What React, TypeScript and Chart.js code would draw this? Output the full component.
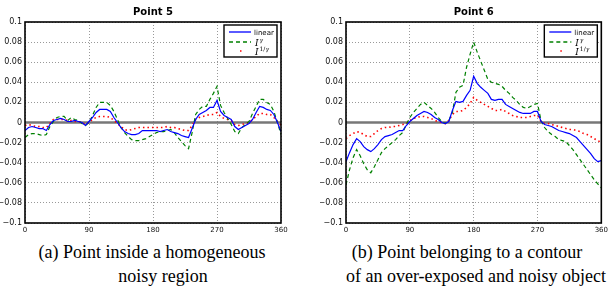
import React, { useEffect, useRef } from "react";
import { Chart, registerables } from "chart.js";
Chart.register(...registerables);

const angles = [
  0, 5, 10, 15, 20, 25, 30, 35, 40, 45, 50, 55, 60, 65, 70, 75, 80, 85, 90, 95,
  100, 105, 110, 115, 120, 125, 130, 135, 140, 145, 150, 155, 160, 165, 170, 175,
  180, 185, 190, 195, 200, 205, 210, 215, 220, 225, 230, 235, 240, 245, 250, 255,
  260, 265, 270, 275, 280, 285, 290, 295, 300, 305, 310, 315, 320, 325, 330, 335,
  340, 345, 350, 355, 360,
];
const xTicks = [0, 90, 180, 270, 360];
const yTicks = [-0.1, -0.08, -0.06, -0.04, -0.02, 0, 0.02, 0.04, 0.06, 0.08, 0.1];

// Point 5 (values in thousandths)
const p5Linear = [
  -8, -5, -4, -5, -6, -6, -8, -2, 2, 3, 4, 3, 1, 1, 2, 1, 0, -3, 1, 5,
  10, 13, 13, 13, 11, 5, 0, -5, -9, -11, -12, -12, -11, -8, -8, -8,
  -8, -8, -9, -8, -7, -9, -10, -11, -13, -14, -15, -6, 3, 8, 10, 12,
  15, 15, 22, 11, 7, 5, 3, -4, -7, -5, -3, -1, 3, 10, 16, 15,
  13, 12, 8, 0, -9,
];
const p5Gamma = [
  -15, -12, -11, -11, -12, -13, -12, -4, 1, 5, 6, 6, 2, 5, 3, 2, -1, -3, 0, 7,
  15, 20, 20, 20, 17, 11, 3, -5, -10, -14, -17, -18, -18, -17, -16, -14,
  -12, -10, -9, -9, -8, -7, -10, -15, -19, -23, -26, -10, 8, 13, 16, 16,
  23, 29, 36, 17, 10, 4, -2, -9, -11, -5, -2, 1, 9, 16, 23, 23,
  20, 18, 11, 0, -12,
];
const p5InvGamma = [
  -3, -2, -3, -4, -4, -5, -5, -1, 3, 3, 3, 3, 2, 2, 1, 1, 0, -2, 0, 3,
  5, 6, 6, 6, 5, 2, -1, -4, -7, -8, -7, -6, -5, -5, -5, -5,
  -5, -5, -5, -5, -4, -5, -5, -6, -7, -8, -8, -3, 3, 5, 6, 7,
  8, 8, 10, 6, 4, 3, 2, -2, -3, -2, -1, 0, 3, 6, 9, 9,
  8, 8, 5, 1, -3,
];

// Point 6 (values in thousandths)
const p6Linear = [
  -39, -30, -22, -16, -19, -24, -27, -29, -26, -22, -17, -14, -13, -12, -10, -8, -8, -3, 1, 4,
  7, 9, 11, 10, 8, 5, 3, 0, -1, 1, 12, 21, 20, 21, 27, 32,
  46, 39, 35, 32, 29, 23, 22, 23, 23, 18, 16, 14, 12, 10, 9, 9,
  9, 11, 11, 1, -2, -3, -4, -6, -8, -9, -10, -11, -13, -15, -19, -23,
  -27, -31, -36, -39, -38,
];
const p6Gamma = [
  -62, -47, -35, -27, -33, -41, -47, -50, -44, -37, -30, -26, -23, -20, -17, -13, -10, -2, 5, 10,
  14, 18, 20, 17, 14, 10, 5, 1, -1, 2, 10, 30, 35, 37, 55, 68,
  80, 70, 61, 52, 43, 40, 39, 38, 36, 32, 29, 25, 22, 18, 15, 14,
  16, 18, 19, 2, -5, -9, -12, -14, -17, -18, -19, -23, -27, -32, -37, -42,
  -47, -52, -57, -61, -65,
];
const p6InvGamma = [
  -16, -13, -11, -9, -10, -12, -14, -14, -11, -8, -6, -5, -5, -4, -4, -3, -2, -1, 2, 4,
  5, 6, 6, 5, 4, 2, 1, 0, -1, 2, 8, 11, 11, 12, 15, 19,
  25, 22, 20, 18, 16, 14, 12, 12, 13, 11, 9, 7, 6, 5, 5, 5,
  6, 7, 7, 1, -1, -1, -2, -3, -4, -5, -6, -7, -7, -8, -9, -11,
  -12, -14, -16, -18, -20,
];

const BLUE = "#0000ff";
const GREEN = "#008000";
const RED = "#ff0000";

function toPoints(vals: number[]) {
  return angles.map((a, i) => ({ x: a, y: vals[i] / 1000 }));
}

function fmtY(v: number) {
  const r = Math.round(v * 100) / 100;
  if (r === 0) return "0";
  const s = String(r);
  return s.replace("-", "\u2212");
}

const framePlugin = (title: string) => ({
  id: "frameAndExtras",
  beforeDatasetsDraw(chart: any) {
    const { ctx, chartArea, scales } = chart;
    const y0 = scales.y.getPixelForValue(0);
    ctx.save();
    ctx.strokeStyle = "#777";
    ctx.lineWidth = 2.5;
    ctx.beginPath();
    ctx.moveTo(chartArea.left, y0);
    ctx.lineTo(chartArea.right, y0);
    ctx.stroke();
    ctx.restore();
  },
  afterDraw(chart: any) {
    const { ctx, chartArea } = chart;
    ctx.save();
    // frame
    ctx.strokeStyle = "#000";
    ctx.lineWidth = 1.6;
    ctx.strokeRect(chartArea.left, chartArea.top, chartArea.right - chartArea.left, chartArea.bottom - chartArea.top);
    // title
    ctx.fillStyle = "#000";
    ctx.font = "bold 10px 'DejaVu Sans'";
    ctx.textAlign = "center";
    ctx.textBaseline = "middle";
    ctx.fillText(title, (chartArea.left + chartArea.right) / 2, 12);
    // legend
    const bw = 53;
    const bh = 32;
    const bx = chartArea.right - 4 - bw;
    const by = chartArea.top + 3;
    ctx.fillStyle = "#fff";
    ctx.fillRect(bx, by, bw, bh);
    ctx.strokeStyle = "#000";
    ctx.lineWidth = 1.4;
    ctx.strokeRect(bx, by, bw, bh);
    const lx0 = bx + 5;
    const lx1 = bx + 27;
    const tx = bx + 31;
    const rows = [by + 7, by + 17, by + 26];
    // linear
    ctx.lineWidth = 1.3;
    ctx.strokeStyle = BLUE;
    ctx.setLineDash([]);
    ctx.beginPath();
    ctx.moveTo(lx0, rows[0]);
    ctx.lineTo(lx1, rows[0]);
    ctx.stroke();
    // gamma
    ctx.strokeStyle = GREEN;
    ctx.setLineDash([4, 3]);
    ctx.beginPath();
    ctx.moveTo(lx0, rows[1]);
    ctx.lineTo(lx1, rows[1]);
    ctx.stroke();
    ctx.setLineDash([]);
    // inv gamma dot
    ctx.fillStyle = RED;
    ctx.fillRect(bx + 16, rows[2] - 0.75, 1.5, 1.5);
    // texts
    ctx.fillStyle = "#000";
    ctx.textAlign = "left";
    ctx.textBaseline = "alphabetic";
    ctx.font = "7px 'DejaVu Sans'";
    ctx.fillText("linear", bx + 30, rows[0] + 3);
    ctx.font = "italic 9px 'DejaVu Serif'";
    ctx.fillText("I", tx, rows[1] + 4);
    let w = ctx.measureText("I").width;
    ctx.font = "italic 6px 'DejaVu Serif'";
    ctx.fillText("\u03b3", tx + w + 1, rows[1] - 0.5);
    ctx.font = "italic 9px 'DejaVu Serif'";
    ctx.fillText("I", tx, rows[2] + 4);
    ctx.font = "6px 'DejaVu Serif'";
    ctx.fillText("1/", tx + w + 1, rows[2] - 0.5);
    const w2 = ctx.measureText("1/").width;
    ctx.font = "italic 6px 'DejaVu Serif'";
    ctx.fillText("\u03b3", tx + w + 1 + w2, rows[2] - 0.5);
    ctx.restore();
  },
});

function makeConfig(title: string, lin: number[], gam: number[], inv: number[], yWidth: number, padRight: number): any {
  return {
    type: "line",
    data: {
      datasets: [
        { label: "linear", data: toPoints(lin), borderColor: BLUE, borderWidth: 1.2, pointRadius: 0, tension: 0 },
        { label: "I^γ", data: toPoints(gam), borderColor: GREEN, borderWidth: 1.2, borderDash: [4, 3], pointRadius: 0, tension: 0 },
        { label: "I^1/γ", data: toPoints(inv), borderColor: RED, borderWidth: 1.6, borderDash: [1.5, 3], pointRadius: 0, tension: 0 },
      ],
    },
    options: {
      animation: false,
      responsive: false,
      layout: { padding: { left: 0, right: padRight, top: 22, bottom: 0 } },
      plugins: { legend: { display: false }, title: { display: false }, tooltip: { enabled: false } },
      scales: {
        x: {
          type: "linear",
          min: 0,
          max: 360,
          afterBuildTicks: (s: any) => {
            s.ticks = xTicks.map((v) => ({ value: v }));
          },
          afterFit: (s: any) => {
            s.height = 12;
          },
          ticks: {
            color: "#111",
            font: { family: "DejaVu Sans", size: 7 },
            padding: 3,
            maxRotation: 0,
            autoSkip: false,
            callback: (v: any) => String(v),
          },
          grid: { color: "#999", lineWidth: 1, drawTicks: false },
          border: { display: false, dash: [1, 2] },
        },
        y: {
          type: "linear",
          min: -0.1,
          max: 0.1,
          afterBuildTicks: (s: any) => {
            s.ticks = yTicks.map((v) => ({ value: v }));
          },
          afterFit: (s: any) => {
            s.width = yWidth;
          },
          ticks: {
            color: "#111",
            font: { family: "DejaVu Sans", size: 8 },
            padding: 3,
            autoSkip: false,
            callback: (v: any) => fmtY(Number(v)),
          },
          grid: { color: "#999", lineWidth: 1, drawTicks: false },
          border: { display: false, dash: [1, 2] },
        },
      },
    },
    plugins: [framePlugin(title)],
  };
}

function ChartBox(props: { title: string; lin: number[]; gam: number[]; inv: number[]; left: number; width: number; yWidth: number; padRight: number }) {
  const ref = useRef<HTMLCanvasElement | null>(null);
  useEffect(() => {
    if (!ref.current) return;
    const chart = new Chart(ref.current, makeConfig(props.title, props.lin, props.gam, props.inv, props.yWidth, props.padRight));
    return () => chart.destroy();
  }, []);
  return (
    <canvas
      ref={ref}
      width={props.width}
      height={235}
      style={{ position: "absolute", left: props.left, top: 0, width: props.width, height: 235 }}
    />
  );
}

const capStyle: React.CSSProperties = {
  position: "absolute",
  fontFamily: "'Liberation Serif', 'Times New Roman', serif",
  fontSize: 18,
  lineHeight: "20px",
  whiteSpace: "nowrap",
  transform: "translateX(-50%)",
  color: "#000",
};

export default function App() {
  return (
    <div style={{ position: "absolute", left: 0, top: 0, width: 611, height: 291, background: "#fff", overflow: "hidden" }}>
      <ChartBox title="Point 5" lin={p5Linear} gam={p5Gamma} inv={p5InvGamma} left={0} width={305} yWidth={25} padRight={24} />
      <ChartBox title="Point 6" lin={p6Linear} gam={p6Gamma} inv={p6InvGamma} left={320} width={291} yWidth={26} padRight={9} />
      <div style={{ ...capStyle, left: 152, top: 242 }}>(a) Point inside a homogeneous</div>
      <div style={{ ...capStyle, left: 163, top: 266 }}>noisy region</div>
      <div style={{ ...capStyle, left: 467, top: 242 }}>(b) Point belonging to a contour</div>
      <div style={{ ...capStyle, left: 476, top: 266 }}>of an over-exposed and noisy object</div>
    </div>
  );
}
